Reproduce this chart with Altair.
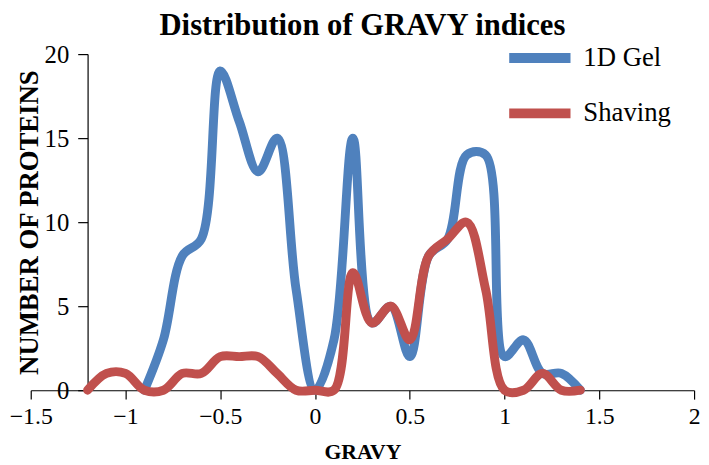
import altair as alt
import pandas as pd

# GRAVY bin centres
gravy_all = [-1.2, -1.1, -1.0, -0.9, -0.8, -0.7, -0.6, -0.5, -0.4, -0.3, -0.2, -0.1,
             0.0, 0.1, 0.2, 0.3, 0.4, 0.5, 0.6, 0.7, 0.8, 0.9, 1.0, 1.1, 1.2, 1.3, 1.4]
gel_x = [-0.9, -0.8, -0.7, -0.6, -0.5, -0.4, -0.3, -0.2, -0.1, 0.0, 0.1, 0.2,
         0.3, 0.4, 0.5, 0.6, 0.7, 0.8, 0.9, 1.0, 1.1, 1.2, 1.3, 1.4]
gel_1d = [0, 3, 8, 9, 19, 16, 13, 15, 6, 0, 3, 15, 4, 5, 2, 8, 9, 14, 14, 2, 3, 1, 1, 0]
shaving = [0, 1, 1, 0, 0, 1, 1, 2, 2, 2, 1, 0, 0, 0, 7, 4, 5, 3, 8, 9, 10, 6, 0, 0, 1, 0, 0]

series_names = ["1D Gel", "Shaving"]
colors = ["#4F81BD", "#C0504D"]
x_ticks = [-1.5, -1, -0.5, 0, 0.5, 1, 1.5, 2]
y_ticks = [0, 5, 10, 15, 20]

rows = [{"gravy": x, "count": v, "series": "1D Gel"} for x, v in zip(gel_x, gel_1d)]
rows += [{"gravy": x, "count": v, "series": "Shaving"} for x, v in zip(gravy_all, shaving)]
df = pd.DataFrame(rows)

W, H = 671, 340
XMIN, XMAX = -1.5, 2.0
y_axis_cross = -1.2
y_offset = -(y_axis_cross - XMIN) / (XMAX - XMIN) * W

FONT = "Liberation Serif"

chart = alt.Chart(df).mark_line(
    interpolate="catmull-rom", strokeWidth=9, strokeJoin="round", strokeCap="round", clip=False
).encode(
    x=alt.X("gravy:Q",
            scale=alt.Scale(domain=[XMIN, XMAX], nice=False, zero=False),
            axis=alt.Axis(values=x_ticks, format="~g", title="GRAVY", grid=False,
                          tickSize=9, labelFontSize=24, labelPadding=6,
                          titleFontSize=22, titleFontWeight="bold", titlePadding=13,
                          labelFlush=False, labelOverlap=False)),
    y=alt.Y("count:Q",
            scale=alt.Scale(domain=[0, 20], nice=False),
            axis=alt.Axis(values=y_ticks, title="NUMBER OF PROTEINS", grid=False,
                          offset=y_offset, tickSize=10, labelFontSize=25, labelPadding=9,
                          titleFontSize=27, titleFontWeight="bold", titlePadding=1,
                          labelOverlap=False)),
    color=alt.Color("series:N",
                    scale=alt.Scale(domain=series_names, range=colors),
                    legend=alt.Legend(title=None, orient="none", legendX=479, legendY=-32,
                                      symbolType="stroke", symbolSize=3844,
                                      symbolStrokeWidth=10, labelFontSize=27,
                                      labelFont=FONT, labelColor="black",
                                      labelOffset=8, rowPadding=-7, padding=0)),
).properties(
    width=W, height=H,
    title=alt.TitleParams("Distribution of GRAVY indices", font=FONT, fontSize=31,
                          fontWeight="bold", anchor="middle", frame="group",
                          baseline="alphabetic", offset=0, dy=44, color="black"),
    padding={"left": 23, "top": 44, "right": 7, "bottom": 73},
    autosize="none",
    background="white",
).configure_axis(
    labelFont=FONT, titleFont=FONT, labelColor="black", titleColor="black",
    domainColor="black", tickColor="black", domainWidth=1.2, tickWidth=1.2,
).configure_view(stroke=None)

chart.save("out.html", embed_options={"renderer": "svg", "actions": False})
